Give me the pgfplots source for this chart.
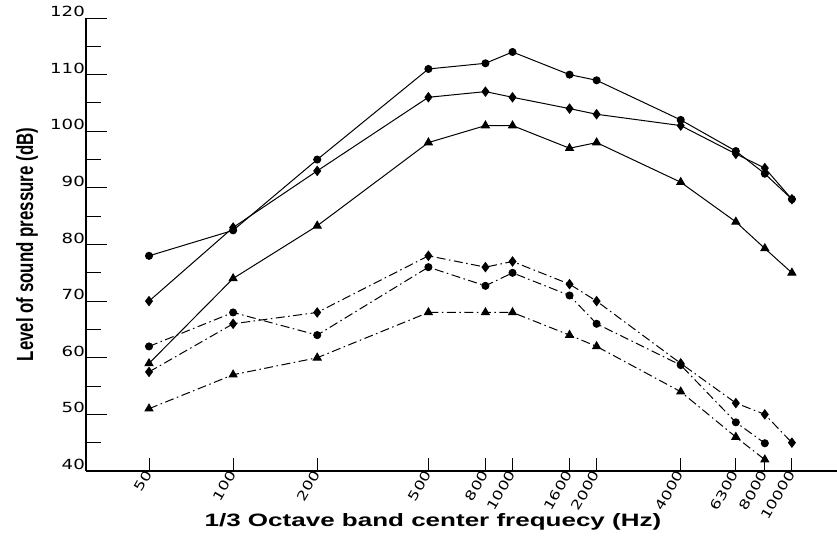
\documentclass[border=0pt]{standalone}
\usepackage{fontspec}
\setmainfont{Liberation Sans}
\newfontfamily\tickfont[FakeStretch=1.3]{DejaVu Sans}
\newfontfamily\ylabfont[FakeStretch=0.72]{Liberation Sans}
\newfontfamily\xlabfont[FakeStretch=1.45]{Liberation Sans}
\usepackage{pgfplots}
\pgfplotsset{compat=1.18}
\begin{document}
\begin{tikzpicture}
\useasboundingbox (-86bp,-66bp) rectangle (751bp,471bp);
\begin{axis}[
  at={(0,0)}, anchor=south west, scale only axis,
  width=751bp, height=453bp,
  xmode=log, xmin=29.75, xmax=14503, ymin=40, ymax=120,
  axis x line=bottom, axis y line=left,
  axis line style={-, line width=1.2bp, black},
  tick align=inside,
  major tick length=21bp, minor tick length=15bp,
  every tick/.style={black, line width=1bp},
  xtick={50,100,200,500,800,1000,1600,2000,4000,6300,8000,10000},
  xticklabels={50,100,200,500,800,1000,1600,2000,4000,6300,8000,10000},
  xtick style={/pgfplots/major tick length=13bp},
  xminorticks=false,
  ytick={40,50,60,70,80,90,100,110,120},
  yticklabels={40,50,60,70,80,90,100,110,120},
  minor ytick={45,55,65,75,85,95,105,115},
  xticklabel style={font=\tickfont\fontsize{13}{13}\selectfont, rotate=60, anchor=east, inner sep=1pt},
  yticklabel style={font=\tickfont\fontsize{14}{14}\selectfont, anchor=south east, inner sep=1pt},
  xlabel={1/3 Octave band center frequecy (Hz)},
  ylabel={Level of sound pressure (dB)},
  xlabel style={font=\xlabfont\bfseries\fontsize{18}{18}\selectfont, at={(axis description cs:0.462,-0.1126)}, anchor=center},
  ylabel style={font=\ylabfont\bfseries\fontsize{23.5}{23.5}\selectfont, at={(axis description cs:-0.0786,0.5)}, anchor=center},
  clip=false,
]
% upper group: solid lines
\addplot[black, line width=1bp, mark=*, mark size=3.5bp] coordinates {
 (50,78) (100,82.5) (200,95) (500,111) (800,112) (1000,114) (1600,110) (2000,109) (4000,102) (6300,96.5) (8000,92.5) (10000,88)};
\addplot[black, line width=1bp, mark=diamond*, mark size=4.5bp] coordinates {
 (50,70) (100,83) (200,93) (500,106) (800,107) (1000,106) (1600,104) (2000,103) (4000,101) (6300,96) (8000,93.5) (10000,88)};
\addplot[black, line width=1bp, mark=triangle*, mark size=4.5bp] coordinates {
 (50,59) (100,74) (200,83.3) (500,98) (800,101) (1000,101) (1600,97) (2000,98) (4000,91) (6300,84) (8000,79.3) (10000,75)};
% lower group: dash-dot lines
\addplot[black, line width=1bp, dash pattern=on 9bp off 3.5bp on 1.5bp off 3.5bp, mark=diamond*, mark size=4.5bp, mark options={solid}] coordinates {
 (50,57.5) (100,66) (200,68) (500,78) (800,76) (1000,77) (1600,73) (2000,70) (4000,59) (6300,52) (8000,50) (10000,45)};
\addplot[black, line width=1bp, dash pattern=on 9bp off 3.5bp on 1.5bp off 3.5bp, mark=*, mark size=3.5bp, mark options={solid}] coordinates {
 (50,62) (100,68) (200,64) (500,76) (800,72.7) (1000,75) (1600,71) (2000,66) (4000,58.7) (6300,48.6) (8000,44.9)};
\addplot[black, line width=1bp, dash pattern=on 9bp off 3.5bp on 1.5bp off 3.5bp, mark=triangle*, mark size=4.5bp, mark options={solid}] coordinates {
 (50,51) (100,57) (200,60) (500,68) (800,68) (1000,68) (1600,64) (2000,62) (4000,54) (6300,46) (8000,42)};
\end{axis}
\end{tikzpicture}
\end{document}
